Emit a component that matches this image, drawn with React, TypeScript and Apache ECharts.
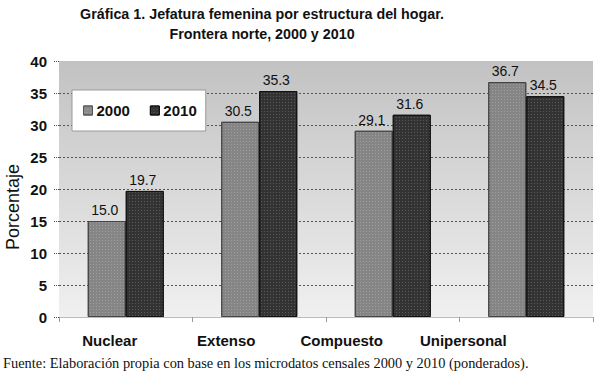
import React, { useEffect, useRef } from "react";
import * as echarts from "echarts";

const categories = ["Nuclear", "Extenso", "Compuesto", "Unipersonal"];
const series2000 = [15.0, 30.5, 29.1, 36.7];
const series2010 = [19.7, 35.3, 31.6, 34.5];
const yTicks = [0, 5, 10, 15, 20, 25, 30, 35, 40];

export default function App() {
  const ref = useRef<HTMLDivElement>(null);
  useEffect(() => {
    const chart = echarts.init(ref.current!, undefined, { renderer: "svg" });
    const label = {
      show: true,
      position: "top" as const,
      distance: 4,
      offset: [-2, 0],
      formatter: (p: any) => p.value.toFixed(1),
      fontFamily: "Liberation Sans",
      fontSize: 14,
      color: "#111",
    };
    const labelShift = [32, 66, 102, 126];
    const rich: any = {};
    categories.forEach((_, i) => {
      rich["c" + i] = {
        fontFamily: "Liberation Sans",
        fontSize: 15,
        fontWeight: "bold",
        color: "#111",
        padding: [0, labelShift[i], 0, 0],
      };
    });
    chart.setOption({
      animation: false,
      backgroundColor: "#fff",
      title: {
        text: "Gráfica 1. Jefatura femenina por estructura del hogar.\nFrontera norte, 2000 y 2010",
        left: 262,
        textAlign: "center",
        top: 4,
        padding: 0,
        textStyle: {
          fontFamily: "Liberation Sans",
          fontSize: 14.3,
          fontWeight: "bold",
          color: "#111",
          lineHeight: 20,
        },
      },
      legend: {
        left: 72,
        top: 90,
        orient: "horizontal",
        backgroundColor: "#fff",
        borderColor: "#999",
        borderWidth: 1,
        padding: [13, 9, 13, 11],
        itemWidth: 9,
        itemHeight: 9,
        itemGap: 20,
        icon: "rect",
        textStyle: { fontFamily: "Liberation Sans", fontSize: 15, fontWeight: "bold", color: "#111", padding: [0, 0, 0, -1] },
        data: [
          { name: "2000", itemStyle: { color: "#8a8a8a", borderColor: "#555", borderWidth: 1 } },
          { name: "2010", itemStyle: { color: "#333", borderColor: "#111", borderWidth: 1 } },
        ],
      },
      grid: { left: 59, right: 7, top: 61, bottom: 66, containLabel: false },
      xAxis: {
        type: "category",
        data: categories,
        axisLine: { show: true, lineStyle: { color: "#bbb" } },
        axisTick: { show: true, length: 5, lineStyle: { color: "#999" } },
        axisLabel: {
          interval: 0,
          margin: 16,
          formatter: (v: string) => "{c" + categories.indexOf(v) + "|" + v + "}",
          rich,
        },
      },
      yAxis: {
        type: "value",
        min: yTicks[0],
        max: yTicks[yTicks.length - 1],
        interval: 5,
        axisLine: { show: false },
        axisTick: { show: true, length: 6, lineStyle: { color: "#555", type: "dotted" } },
        axisLabel: {
          fontFamily: "Liberation Sans",
          fontSize: 15,
          fontWeight: "bold",
          color: "#111",
          margin: 12,
        },
        splitLine: {
          show: true,
          lineStyle: { color: "#555", type: [2, 2], width: 1 },
          showMinLine: false,
          showMaxLine: false,
        },
      },
      graphic: [
        {
          type: "rect",
          z: -10,
          shape: { x: 59, y: 61, width: 534, height: 256 },
          style: {
            fill: new echarts.graphic.LinearGradient(0, 0, 0, 1, [
              { offset: 0, color: "#c2c2c2" },
              { offset: 1, color: "#f0f0f0" },
            ]),
          },
        },
        {
          type: "text",
          x: 13,
          y: 207,
          rotation: Math.PI / 2,
          style: {
            text: "Porcentaje",
            fontFamily: "Liberation Sans",
            fontSize: 18,
            fill: "#111",
            align: "center",
            verticalAlign: "middle",
          },
        },
        {
          type: "text",
          left: 3,
          top: 356,
          style: {
            text: "Fuente: Elaboración propia con base en los microdatos censales 2000 y 2010 (ponderados).",
            fontFamily: "Liberation Serif",
            fontSize: 14.4,
            fill: "#111",
          },
        },
      ],
      series: [
        {
          name: "2000",
          type: "bar",
          data: series2000,
          barWidth: 38,
          barGap: "0%",
          itemStyle: {
            color: "#858585",
            borderColor: "#444",
            borderWidth: 1,
            decal: {
              symbol: "rect",
              symbolSize: 1,
              dashArrayX: [1, 2],
              dashArrayY: [1, 2],
              color: "rgba(200,200,200,0.4)",
            },
          },
          label,
        },
        {
          name: "2010",
          type: "bar",
          data: series2010,
          barWidth: 38,
          barGap: "0%",
          itemStyle: {
            color: "#333",
            borderColor: "#111",
            borderWidth: 1,
            decal: {
              symbol: "rect",
              symbolSize: 1,
              dashArrayX: [1, 2],
              dashArrayY: [1, 2],
              color: "rgba(150,150,150,0.4)",
            },
          },
          label,
        },
      ],
    });
    return () => chart.dispose();
  }, []);
  return <div ref={ref} style={{ width: 600, height: 383, position: "absolute", left: 0, top: 0 }} />;
}
